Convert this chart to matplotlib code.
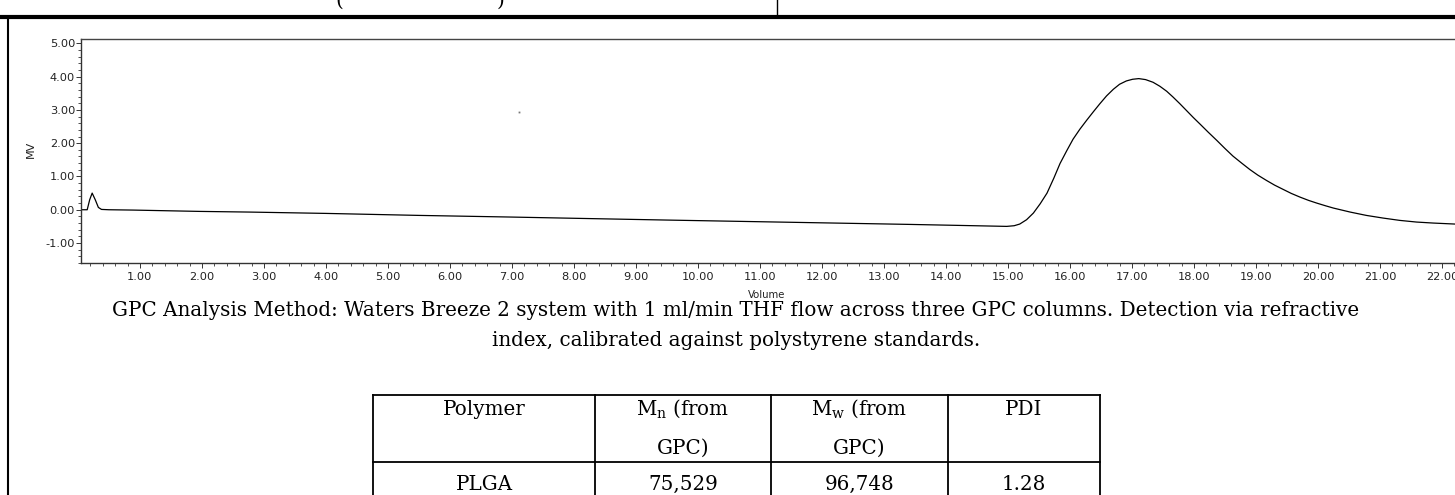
# GPC chromatogram of PLGA with method caption and results table

import matplotlib.pyplot as plt
from matplotlib.lines import Line2D
from matplotlib.ticker import MultipleLocator, FormatStrFormatter

plt.rcParams['mathtext.fontset'] = 'dejavuserif'

# trace (elution volume, detector response)
volume = [0.05, 0.15, 0.19, 0.23, 0.28, 0.33, 0.38, 0.50, 0.89, 1.43, 1.97,
          2.77, 4.00, 5.50, 7.00, 8.10, 9.50, 11.00, 12.50, 13.40, 14.20,
          14.98, 15.10, 15.19, 15.30, 15.41, 15.52, 15.63, 15.74, 15.84,
          15.95, 16.05, 16.16, 16.27, 16.38, 16.48, 16.59, 16.70, 16.80,
          16.91, 17.01, 17.11, 17.22, 17.34, 17.45, 17.56, 17.66, 17.77,
          17.88, 17.99, 18.10, 18.23, 18.37, 18.50, 18.63, 18.77, 18.90,
          19.03, 19.17, 19.30, 19.44, 19.57, 19.71, 19.85, 19.98, 20.12,
          20.25, 20.52, 20.78, 21.05, 21.32, 21.59, 21.86, 22.21]
mv = [0.00, 0.00, 0.30, 0.50, 0.30, 0.07, 0.01, 0.00, -0.01, -0.03, -0.05,
      -0.07, -0.11, -0.17, -0.22, -0.26, -0.31, -0.36, -0.41, -0.44, -0.47,
      -0.50, -0.48, -0.43, -0.30, -0.10, 0.18, 0.50, 0.95, 1.39,
      1.78, 2.12, 2.42, 2.69, 2.95, 3.18, 3.42, 3.62, 3.77,
      3.87, 3.92, 3.94, 3.91, 3.83, 3.71, 3.56, 3.39, 3.19,
      2.98, 2.77, 2.57, 2.33, 2.08, 1.84, 1.61, 1.40, 1.21,
      1.04, 0.88, 0.74, 0.61, 0.49, 0.38, 0.28, 0.20, 0.12,
      0.05, -0.07, -0.17, -0.25, -0.32, -0.37, -0.40, -0.43]

# stray pixel in the plot area
speck_x = [7.11]
speck_y = [2.94]

caption = ['GPC Analysis Method: Waters Breeze 2 system with 1 ml/min THF flow across three GPC columns. Detection via refractive',
           'index, calibrated against polystyrene standards.']

header_top = ['Polymer', r'M$_\mathrm{n}$ (from', r'M$_\mathrm{w}$ (from', 'PDI']
header_bottom = ['', 'GPC)', 'GPC)', '']
row_plga = ['PLGA', '75,529', '96,748', '1.28']

W, H = 1455, 495
SERIF = 'DejaVu Serif'
SANS = 'DejaVu Sans'


def fx(x):
    return x / W


def fy(y):
    return 1 - y / H


fig = plt.figure(figsize=(W / 100, H / 100), dpi=100)

# chromatogram
ax = fig.add_axes([fx(81), fy(263), fx(1455) - fx(81), (263 - 39) / H])
ax.plot(volume, mv, color='black', lw=0.9)
ax.plot(speck_x, speck_y, 's', ms=1.3, mew=0, color='#777777')
ax.set_xlim(0.05, 22.21)
ax.set_ylim(-1.6, 5.13)
ax.xaxis.set_major_locator(MultipleLocator(1))
ax.xaxis.set_minor_locator(MultipleLocator(0.2))
ax.yaxis.set_major_locator(MultipleLocator(1))
ax.yaxis.set_minor_locator(MultipleLocator(0.2))
ax.xaxis.set_major_formatter(FormatStrFormatter('%.2f'))
ax.yaxis.set_major_formatter(FormatStrFormatter('%.2f'))
ax.tick_params(which='major', direction='out', length=3.8, width=0.7,
               color='#333333', labelcolor='#222222', labelsize=8.2)
ax.tick_params(which='minor', direction='out', length=2.2, width=0.6, color='#333333')
ax.tick_params(axis='y', pad=0.5)
ax.tick_params(axis='x', pad=3)
for lab in ax.get_xticklabels() + ax.get_yticklabels():
    lab.set_fontfamily(SANS)
ax.spines['right'].set_visible(False)
for side in ('top', 'left', 'bottom'):
    ax.spines[side].set_linewidth(1.0)
ax.spines['top'].set_color('#444444')
ax.spines['left'].set_color('#333333')
ax.spines['bottom'].set_color('#333333')

fig.text(fx(31), fy(149), 'MV', rotation=90, ha='center', va='center',
         fontsize=8, family=SANS, color='#222222')
fig.text(fx(767), fy(295), 'Volume', ha='center', va='center',
         fontsize=7.3, family=SANS, color='#222222')

# page borders
fig.add_artist(Line2D([0, 1], [fy(17), fy(17)], lw=3.0, color='black',
                      transform=fig.transFigure))
fig.add_artist(Line2D([fx(8), fx(8)], [fy(17), 0], lw=1.5, color='black',
                      transform=fig.transFigure))
fig.add_artist(Line2D([fx(777), fx(777)], [1, fy(17)], lw=1.0, color='black',
                      transform=fig.transFigure))
fig.text(fx(339), fy(6), '(', ha='center', va='baseline', fontsize=14.3, family=SERIF)
fig.text(fx(501), fy(6), ')', ha='center', va='baseline', fontsize=14.3, family=SERIF)

# caption
fig.text(fx(736), fy(310), caption[0], ha='center', va='center',
         fontsize=14.3, family=SERIF)
fig.text(fx(736), fy(340), caption[1], ha='center', va='center',
         fontsize=14.3, family=SERIF)

# results table
col_edges = [373, 595, 771, 948, 1100]
tbl_top, tbl_sep = 395, 462
for xe in col_edges:
    fig.add_artist(Line2D([fx(xe), fx(xe)], [fy(tbl_top), 0], lw=1.3,
                          color='black', transform=fig.transFigure))
for ye in (tbl_top, tbl_sep):
    fig.add_artist(Line2D([fx(col_edges[0]), fx(col_edges[-1])], [fy(ye), fy(ye)],
                          lw=1.3, color='black', transform=fig.transFigure))
for i in range(4):
    xc = (col_edges[i] + col_edges[i + 1]) / 2
    fig.text(fx(xc), fy(415), header_top[i], ha='center', va='baseline',
             fontsize=14.3, family=SERIF)
    fig.text(fx(xc), fy(454), header_bottom[i], ha='center', va='baseline',
             fontsize=14.3, family=SERIF)
    fig.text(fx(xc), fy(490), row_plga[i], ha='center', va='baseline',
             fontsize=14.3, family=SERIF)

fig.savefig('out.png', dpi=100)
